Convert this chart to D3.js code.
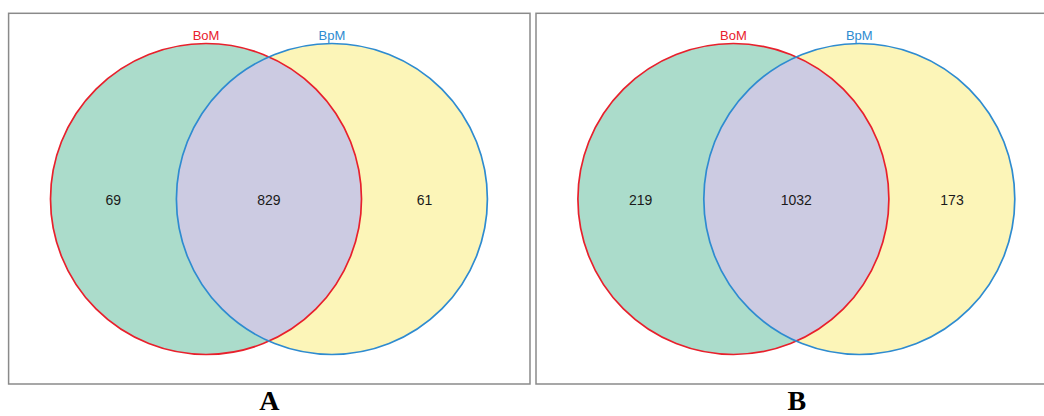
<!DOCTYPE html>
<html>
<head>
<meta charset="utf-8">
<script src="https://cdn.jsdelivr.net/npm/d3@7"></script>
<style>
  html, body { margin: 0; padding: 0; background: #ffffff; }
  svg { display: block; }
</style>
</head>
<body>
<svg id="chart" width="1044" height="416"></svg>
<script>
// ---- data ----
const panels = ["A", "B"];
const setNames = ["BoM", "BpM"];
const onlyBoM = [69, 219];
const both = [829, 1032];
const onlyBpM = [61, 173];

// ---- styles ----
const setStroke = ["#e8202c", "#2e8bd0"];
const setFill = ["#abdccb", "#fcf5b8"];
const overlapFill = "#cccbe2";

const svg = d3.select("#chart");

// panel placement
const panelX = d3.scaleOrdinal().domain(panels).range([8.6, 536]);
const panelW = 521.4;
const frameTop = 13.3, frameBottom = 384;

// layout scale inside a panel: unit coords -> pixels
const ux = d3.scaleLinear().domain([0, 1]).range([0, panelW]);
const uy = d3.scaleLinear().domain([0, 1]).range([0, 416]);
const circleCx = [197.4 / panelW, 323.3 / panelW];
const circleCy = 199 / 416;
const radius = 155.5;
const labelX = [104.6 / panelW, 260.3 / panelW, 416.0 / panelW];

const defs = svg.append("defs");

panels.forEach((p, i) => {
  const g = svg.append("g").attr("transform", `translate(${panelX(p)},0)`);

  // frame
  g.append("rect")
    .attr("x", 0).attr("y", frameTop)
    .attr("width", panelW).attr("height", frameBottom - frameTop)
    .attr("fill", "#ffffff")
    .attr("stroke", "#8a8a8a")
    .attr("stroke-width", 1.5);

  const circles = setNames.map((n, k) => ({ name: n, k, cx: ux(circleCx[k]), cy: uy(circleCy) }));

  // fills
  g.selectAll("circle.fill").data(circles).join("circle")
    .attr("class", "fill")
    .attr("cx", d => d.cx).attr("cy", d => d.cy).attr("r", radius)
    .attr("fill", d => setFill[d.k]);

  // overlap via clip
  const clipId = "clip" + p;
  defs.append("clipPath").attr("id", clipId)
    .append("circle").attr("cx", circles[0].cx).attr("cy", circles[0].cy).attr("r", radius);
  g.append("circle")
    .attr("cx", circles[1].cx).attr("cy", circles[1].cy).attr("r", radius)
    .attr("fill", overlapFill)
    .attr("clip-path", `url(#${clipId})`);

  // strokes
  g.selectAll("circle.edge").data(circles).join("circle")
    .attr("class", "edge")
    .attr("cx", d => d.cx).attr("cy", d => d.cy).attr("r", radius)
    .attr("fill", "none")
    .attr("stroke", d => setStroke[d.k])
    .attr("stroke-width", 1.7);

  // set names
  g.selectAll("text.setname").data(circles).join("text")
    .attr("class", "setname")
    .attr("x", d => d.cx).attr("y", 40)
    .attr("text-anchor", "middle")
    .attr("font-family", "'Liberation Sans', Arial, Helvetica, sans-serif")
    .attr("font-size", 13)
    .attr("fill", d => setStroke[d.k])
    .text(d => d.name);

  // counts
  const counts = [onlyBoM[i], both[i], onlyBpM[i]];
  g.selectAll("text.count").data(counts).join("text")
    .attr("class", "count")
    .attr("x", (d, j) => ux(labelX[j])).attr("y", 205)
    .attr("text-anchor", "middle")
    .attr("font-family", "'Liberation Sans', Arial, Helvetica, sans-serif")
    .attr("font-size", 14)
    .attr("fill", "#1a1a1a")
    .text(d => d);

  // panel letter
  g.append("text")
    .attr("x", (circles[0].cx + circles[1].cx) / 2 + 0.5)
    .attr("y", 410)
    .attr("text-anchor", "middle")
    .attr("font-family", "'Liberation Serif', 'Times New Roman', serif")
    .attr("font-weight", "bold")
    .attr("font-size", 28)
    .attr("fill", "#000")
    .text(p);
});
</script>
</body>
</html>
